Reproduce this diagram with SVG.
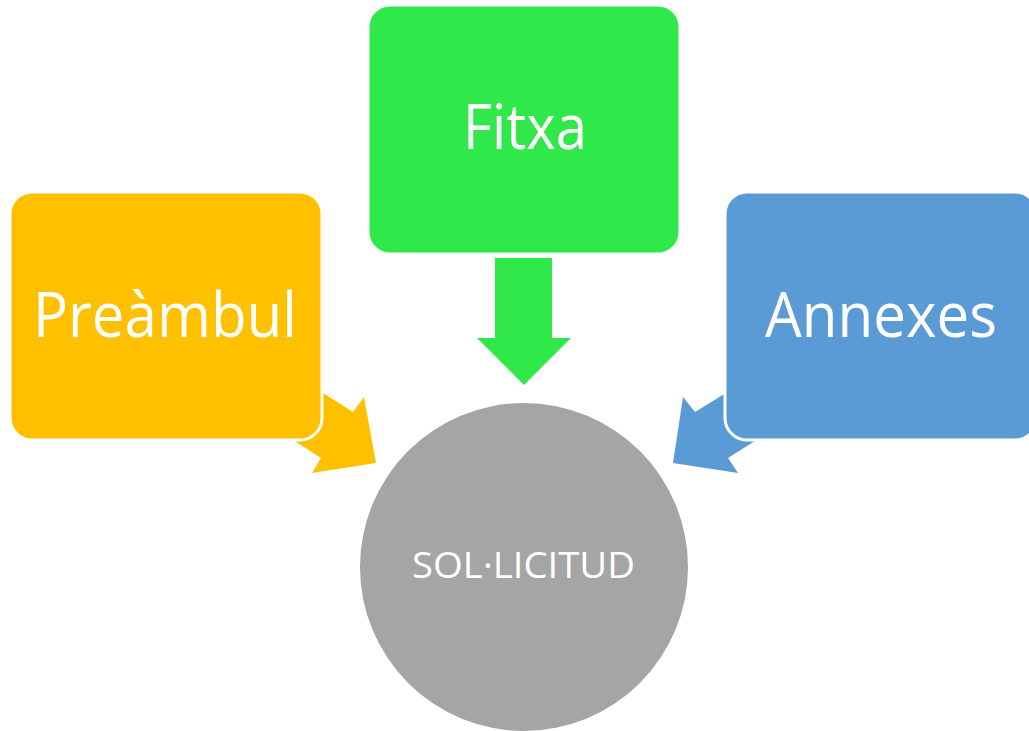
<svg xmlns="http://www.w3.org/2000/svg" width="1029" height="731" viewBox="0 0 1029 731">
<style>
.box{stroke:#fff;stroke-width:3}
.lbl{font-family:"Open Sans","Noto Sans",sans-serif;fill:#fff;text-anchor:middle}
</style>
<rect width="1029" height="731" fill="#fff"/>
<g id="connectors">
<polygon fill="#FFC000" points="290,372 353,412 364,397 376,463 312,473 321,458 270,425"/>
<polygon fill="#5B9BD5" points="760,372 695,412 683,397 673,463 738,473 728,458 780,425"/>
<polygon fill="#31E84B" points="495,258 552,258 552,338 571,338 524,385 477,338 495,338"/>
</g>
<g id="node-preambul">
<rect class="box" x="10" y="192" width="312" height="248" rx="22" fill="#FFC000"/>
<text class="lbl" x="165" y="337" font-size="62" textLength="264" lengthAdjust="spacingAndGlyphs">Preàmbul</text>
</g>
<g id="node-fitxa">
<rect class="box" x="368" y="5" width="312" height="249" rx="22" fill="#31E84B"/>
<text class="lbl" x="525" y="149" font-size="62" textLength="124" lengthAdjust="spacingAndGlyphs">Fitxa</text>
</g>
<g id="node-annexes">
<rect class="box" x="725" y="192" width="312" height="248" rx="22" fill="#5B9BD5"/>
<text class="lbl" x="881" y="337" font-size="62" textLength="232" lengthAdjust="spacingAndGlyphs">Annexes</text>
</g>
<g id="node-sollicitud">
<circle cx="524" cy="567" r="164" fill="#A5A5A5"/>
<text class="lbl" x="523.5" y="578" font-size="36" textLength="223" lengthAdjust="spacingAndGlyphs">SOL·LICITUD</text>
</g>
</svg>
